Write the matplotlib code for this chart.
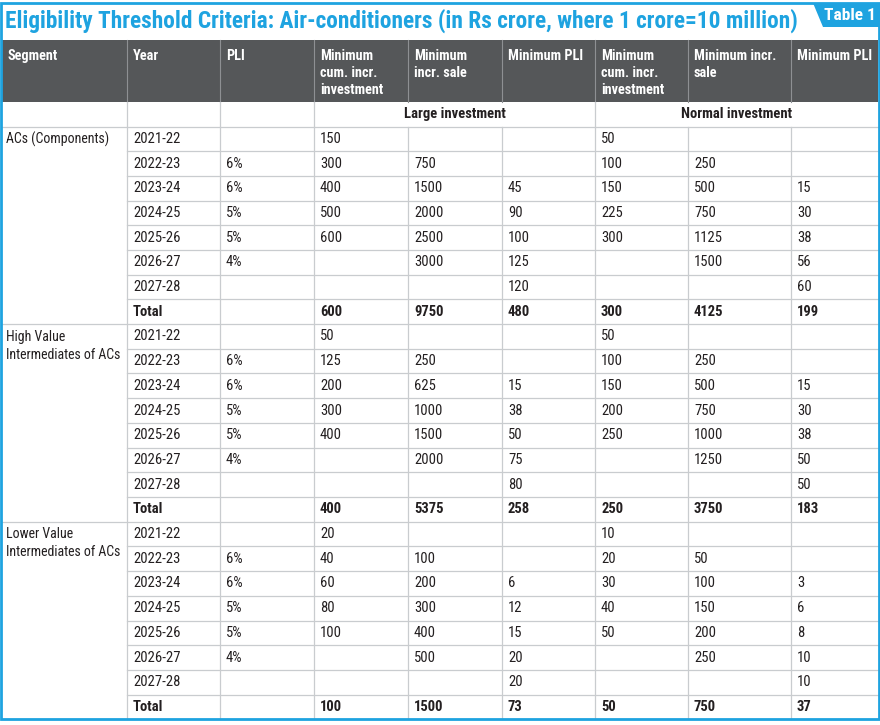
import matplotlib
matplotlib.use("Agg")
import matplotlib.pyplot as plt
from matplotlib import font_manager as fm
from matplotlib.patches import Rectangle, Polygon

# table content
title = "Eligibility Threshold Criteria: Air-conditioners (in Rs crore, where 1 crore=10 million)"
badge = "Table 1"
headers = ["Segment", "Year", "PLI", "Minimum\ncum. incr.\ninvestment", "Minimum\nincr. sale",
           "Minimum PLI", "Minimum\ncum. incr.\ninvestment", "Minimum incr.\nsale", "Minimum PLI"]
groups = ["Large investment", "Normal investment"]

segments = ["ACs (Components)", "High Value\nIntermediates of ACs", "Lower Value\nIntermediates of ACs"]
years = ["2021-22", "2022-23", "2023-24", "2024-25", "2025-26", "2026-27", "2027-28", "Total"]
pli = [None, "6%", "6%", "5%", "5%", "4%", None, None]

# ACs (Components)
ac_large_inv = [150, 300, 400, 500, 600, None, None, 600]
ac_large_sale = [None, 750, 1500, 2000, 2500, 3000, None, 9750]
ac_large_pli = [None, None, 45, 90, 100, 125, 120, 480]
ac_norm_inv = [50, 100, 150, 225, 300, None, None, 300]
ac_norm_sale = [None, 250, 500, 750, 1125, 1500, None, 4125]
ac_norm_pli = [None, None, 15, 30, 38, 56, 60, 199]

# High value intermediates
hv_large_inv = [50, 125, 200, 300, 400, None, None, 400]
hv_large_sale = [None, 250, 625, 1000, 1500, 2000, None, 5375]
hv_large_pli = [None, None, 15, 38, 50, 75, 80, 258]
hv_norm_inv = [50, 100, 150, 200, 250, None, None, 250]
hv_norm_sale = [None, 250, 500, 750, 1000, 1250, None, 3750]
hv_norm_pli = [None, None, 15, 30, 38, 50, 50, 183]

# Lower value intermediates
lv_large_inv = [20, 40, 60, 80, 100, None, None, 100]
lv_large_sale = [None, 100, 200, 300, 400, 500, None, 1500]
lv_large_pli = [None, None, 6, 12, 15, 20, 20, 73]
lv_norm_inv = [10, 20, 30, 40, 50, None, None, 50]
lv_norm_sale = [None, 50, 100, 150, 200, 250, None, 750]
lv_norm_pli = [None, None, 3, 6, 8, 10, 10, 37]

blocks = [
    [ac_large_inv, ac_large_sale, ac_large_pli, ac_norm_inv, ac_norm_sale, ac_norm_pli],
    [hv_large_inv, hv_large_sale, hv_large_pli, hv_norm_inv, hv_norm_sale, hv_norm_pli],
    [lv_large_inv, lv_large_sale, lv_large_pli, lv_norm_inv, lv_norm_sale, lv_norm_pli],
]


def pick_font(names):
    for n in names:
        try:
            fm.findfont(fm.FontProperties(family=n), fallback_to_default=False)
            return n
        except Exception:
            pass
    return "DejaVu Sans"


FONT = pick_font(["Roboto Condensed", "Liberation Sans Narrow", "Open Sans Condensed",
                  "Noto Sans Condensed", "Roboto"])

BLUE = "#1ea3e0"
DARK = "#555759"
GRID = "#c9cccf"
TXT = "#231f20"

# layout (pixels)
col_x = [2, 127, 220, 314, 408, 502, 595, 688, 791, 878]
head_top, head_bot = 40, 102
sub_bot = 126.5
row_h = 24.7

fig = plt.figure(figsize=(8.8, 7.25), dpi=100)
ax = fig.add_axes([0, 0, 1, 1])
ax.set_xlim(0, 880)
ax.set_ylim(725, 0)
ax.axis("off")

# header band
ax.add_patch(Rectangle((col_x[0], head_top), col_x[-1] - col_x[0], head_bot - head_top,
                       facecolor=DARK, edgecolor="none", zorder=1))
for x in col_x[1:-1]:
    ax.plot([x, x], [head_top, head_bot], color="#8e9093", lw=0.8, zorder=2)
for i, h in enumerate(headers):
    ax.text(col_x[i] + 6, head_top + 8.5, h, color="white", fontsize=10.3, fontweight="bold",
            family=FONT, va="top", ha="left", linespacing=1.3, zorder=3)

# group sub header
for x in col_x[1:4] + [col_x[6]]:
    ax.plot([x, x], [head_bot, sub_bot], color=GRID, lw=0.9, zorder=2)
ax.text((col_x[3] + col_x[6]) / 2, (head_bot + sub_bot) / 2, groups[0], fontsize=10.5,
        fontweight="bold", family=FONT, color=TXT, ha="center", va="center")
ax.text((col_x[6] + col_x[9]) / 2, (head_bot + sub_bot) / 2, groups[1], fontsize=10.5,
        fontweight="bold", family=FONT, color=TXT, ha="center", va="center")
ax.plot([col_x[0], col_x[-1]], [sub_bot, sub_bot], color=GRID, lw=0.9, zorder=2)

# body
y = sub_bot
for b, seg in enumerate(segments):
    top = y
    ax.text(col_x[0] + 4.5, top + 5.5, seg, fontsize=10, family=FONT, color=TXT,
            ha="left", va="top", linespacing=1.38)
    for r, yr in enumerate(years):
        yc = y + row_h / 2
        bold = "bold" if yr == "Total" else "normal"
        vals = [yr, pli[r]] + [c[r] for c in blocks[b]]
        for j, v in enumerate(vals):
            if v is None:
                continue
            ax.text(col_x[j + 1] + 6, yc, str(v), fontsize=10.5, family=FONT, color=TXT,
                    fontweight=bold, ha="left", va="center")
        y += row_h
        x0 = col_x[0] if r == len(years) - 1 else col_x[1]
        ax.plot([x0, col_x[-1]], [y, y], color=GRID, lw=0.9, zorder=2)
bottom = y
for x in col_x[1:-1]:
    ax.plot([x, x], [sub_bot, bottom], color=GRID, lw=0.9, zorder=2)

# title and frame
ax.add_patch(Rectangle((1.2, 3), 877.3, bottom - 3, facecolor="none", edgecolor=BLUE,
                       lw=2.0, zorder=5))
t = ax.text(5, 21, title, fontsize=17, fontweight="bold", family=FONT, color=BLUE,
            ha="left", va="center")
fig.canvas.draw()
w = t.get_window_extent().width
t.set_fontsize(17 * 795 / w)

ax.add_patch(Polygon([(813, 3), (878.5, 3), (878.5, 27), (823, 27)], closed=True,
                     facecolor=BLUE, edgecolor="none", zorder=6))
ax.text(850, 15, badge, fontsize=12.5, fontweight="bold", family=FONT, color="white",
        ha="center", va="center", zorder=7)

fig.savefig("out.png", dpi=100, facecolor="white")
